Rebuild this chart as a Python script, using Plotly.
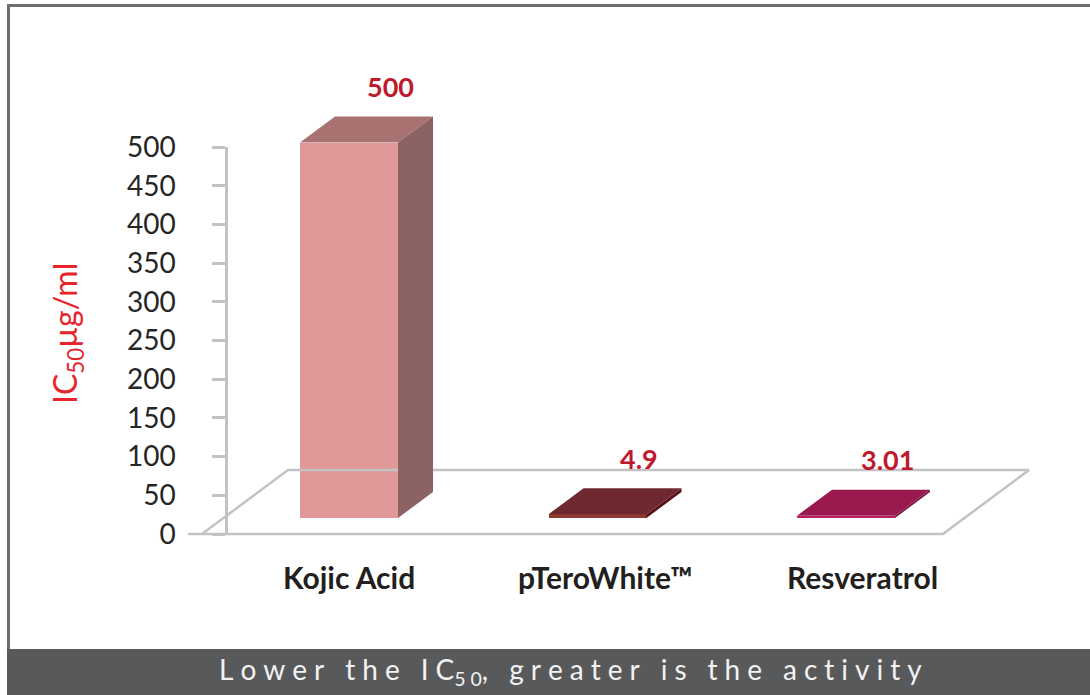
import plotly.graph_objects as go

# ---------------- data ----------------
categories = ["Kojic Acid", "pTeroWhite™", "Resveratrol"]
ic50_values = [500, 4.9, 3.01]
value_labels = ["500", "4.9", "3.01"]
y_tick_values = [0, 50, 100, 150, 200, 250, 300, 350, 400, 450, 500]

front_colors = ["#e09899", "#8e3a30", "#b81e5a"]
top_colors = ["#a87271", "#6e2830", "#9a1a4f"]
side_colors = ["#8a6362", "#5a1218", "#7d1442"]

# ---------------- geometry ----------------
W, H = 1090, 695


def paper_x(px):
    return px / W


def paper_y(py):
    return 1 - py / H


X_ORIGIN_PX, X_UNIT_PX = 349, 248.5      # category 0 centre, px per category
Y_ORIGIN_PX, Y_UNIT_PX = 534, 0.774      # value 0 line, px per value unit

x2_range = [-X_ORIGIN_PX / X_UNIT_PX, (W - X_ORIGIN_PX) / X_UNIT_PX]
y2_range = [-(H - Y_ORIGIN_PX) / Y_UNIT_PX, Y_ORIGIN_PX / Y_UNIT_PX]

BAR_W = 98 / X_UNIT_PX
DX = 35 / X_UNIT_PX
DY = 26 / Y_UNIT_PX
BASE = 16 / Y_UNIT_PX
HEIGHT_SCALE = 0.97

FLOOR_L = (202 - X_ORIGIN_PX) / X_UNIT_PX
FLOOR_R = (943 - X_ORIGIN_PX) / X_UNIT_PX
FLOOR_EXT = (188 - X_ORIGIN_PX) / X_UNIT_PX
FLOOR_DX = 86 / X_UNIT_PX
FLOOR_DY = 64 / Y_UNIT_PX

GRID = "#c3c3c7"

fig = go.Figure()

# empty trace so that the value axis (subplot x/y) is drawn
fig.add_trace(go.Scatter(x=[], y=[], xaxis="x", yaxis="y",
                         hoverinfo="skip", showlegend=False))

# floor outline
fig.add_trace(go.Scatter(
    x=[FLOOR_EXT, FLOOR_R, FLOOR_R + FLOOR_DX, FLOOR_L + FLOOR_DX, FLOOR_L],
    y=[0, 0, FLOOR_DY, FLOOR_DY, 0],
    mode="lines", line=dict(color=GRID, width=2.5),
    xaxis="x2", yaxis="y2", hoverinfo="skip", showlegend=False))

xs = list(range(len(categories)))
tops = [BASE + v * HEIGHT_SCALE for v in ic50_values]

# front faces
fig.add_trace(go.Bar(
    x=xs, y=[t - BASE for t in tops], base=BASE, width=BAR_W,
    marker=dict(color=front_colors, line=dict(width=0)),
    xaxis="x2", yaxis="y2", hoverinfo="skip", showlegend=False))

# top and side faces
for i, t in enumerate(tops):
    l, r = i - BAR_W / 2, i + BAR_W / 2
    fig.add_trace(go.Scatter(
        x=[l, r, r + DX, l + DX, l], y=[t, t, t + DY, t + DY, t],
        fill="toself", fillcolor=top_colors[i], mode="lines",
        line=dict(width=0, color=top_colors[i]),
        xaxis="x2", yaxis="y2", hoverinfo="skip", showlegend=False))
    fig.add_trace(go.Scatter(
        x=[r, r + DX, r + DX, r, r], y=[BASE, BASE + DY, t + DY, t, BASE],
        fill="toself", fillcolor=side_colors[i], mode="lines",
        line=dict(width=0, color=side_colors[i]),
        xaxis="x2", yaxis="y2", hoverinfo="skip", showlegend=False))

annotations = []
for i, t in enumerate(tops):
    annotations.append(dict(
        x=i + DX, y=t + DY, xref="x2", yref="y2", text=value_labels[i],
        showarrow=False, xshift=6, yshift=30,
        xanchor="center", yanchor="middle",
        font=dict(family="Lato", size=27, color="#c0192d", weight="bold")))
    annotations.append(dict(
        x=i, y=-(577 - Y_ORIGIN_PX) / Y_UNIT_PX, xref="x2", yref="y2",
        text=categories[i], showarrow=False, xshift=8 * i,
        xanchor="center", yanchor="middle",
        font=dict(family="Lato", size=30, color="#231f20", weight="bold")))

annotations.append(dict(
    x=paper_x(67), y=paper_y(334), xref="paper", yref="paper",
    xanchor="center", yanchor="middle",
    text="IC<sub>50</sub>µg/ml", textangle=-90, showarrow=False,
    font=dict(family="Lato", size=32, color="#e8232b")))

sp = "\u2005"


def spaced(s):
    return sp.join(s)


band_text = (sp * 3).join([
    spaced("Lower"), spaced("the"),
    "I" + sp + "C" + "<sub>5" + sp + "0</sub>" + ",",
    spaced("greater"), spaced("is"), spaced("the"), spaced("activity")])
annotations.append(dict(
    x=paper_x(570), y=paper_y(671), xref="paper", yref="paper",
    xanchor="center", yanchor="middle",
    text=band_text, showarrow=False,
    font=dict(family="Lato", size=28, color="#f2f2f2")))

shapes = [
    dict(type="rect", xref="paper", yref="paper",
         x0=paper_x(7), x1=1, y0=0, y1=paper_y(649),
         fillcolor="#58595b", line=dict(width=0), layer="below"),
    dict(type="line", xref="paper", yref="paper",
         x0=paper_x(7), x1=1, y0=paper_y(5.5), y1=paper_y(5.5),
         line=dict(color="#6d6e70", width=3)),
    dict(type="line", xref="paper", yref="paper",
         x0=paper_x(8.5), x1=paper_x(8.5), y0=paper_y(4), y1=paper_y(649),
         line=dict(color="#6d6e70", width=3)),
]

fig.update_layout(
    width=W, height=H, margin=dict(l=0, r=0, t=0, b=0, autoexpand=False),
    paper_bgcolor="white", plot_bgcolor="rgba(0,0,0,0)",
    showlegend=False, bargap=0,
    xaxis=dict(domain=[paper_x(228), 1], visible=False, range=[0, 1],
               automargin=False),
    yaxis=dict(domain=[paper_y(534), paper_y(147)], range=[0, 500],
               tickvals=y_tick_values, ticks="outside", ticklen=13,
               tickwidth=2.5, tickcolor=GRID, showline=True,
               linecolor=GRID, linewidth=2.5, showgrid=False,
               zeroline=False, ticklabelstandoff=31, automargin=False,
               tickfont=dict(family="Lato", size=28, color="#262626")),
    xaxis2=dict(domain=[0, 1], range=x2_range, visible=False, anchor="y2",
                automargin=False),
    yaxis2=dict(domain=[0, 1], range=y2_range, visible=False, anchor="x2",
                automargin=False),
    annotations=annotations, shapes=shapes,
)

fig.write_html("out.html", config={"displayModeBar": False},
               post_script="document.body.style.margin='0';")
